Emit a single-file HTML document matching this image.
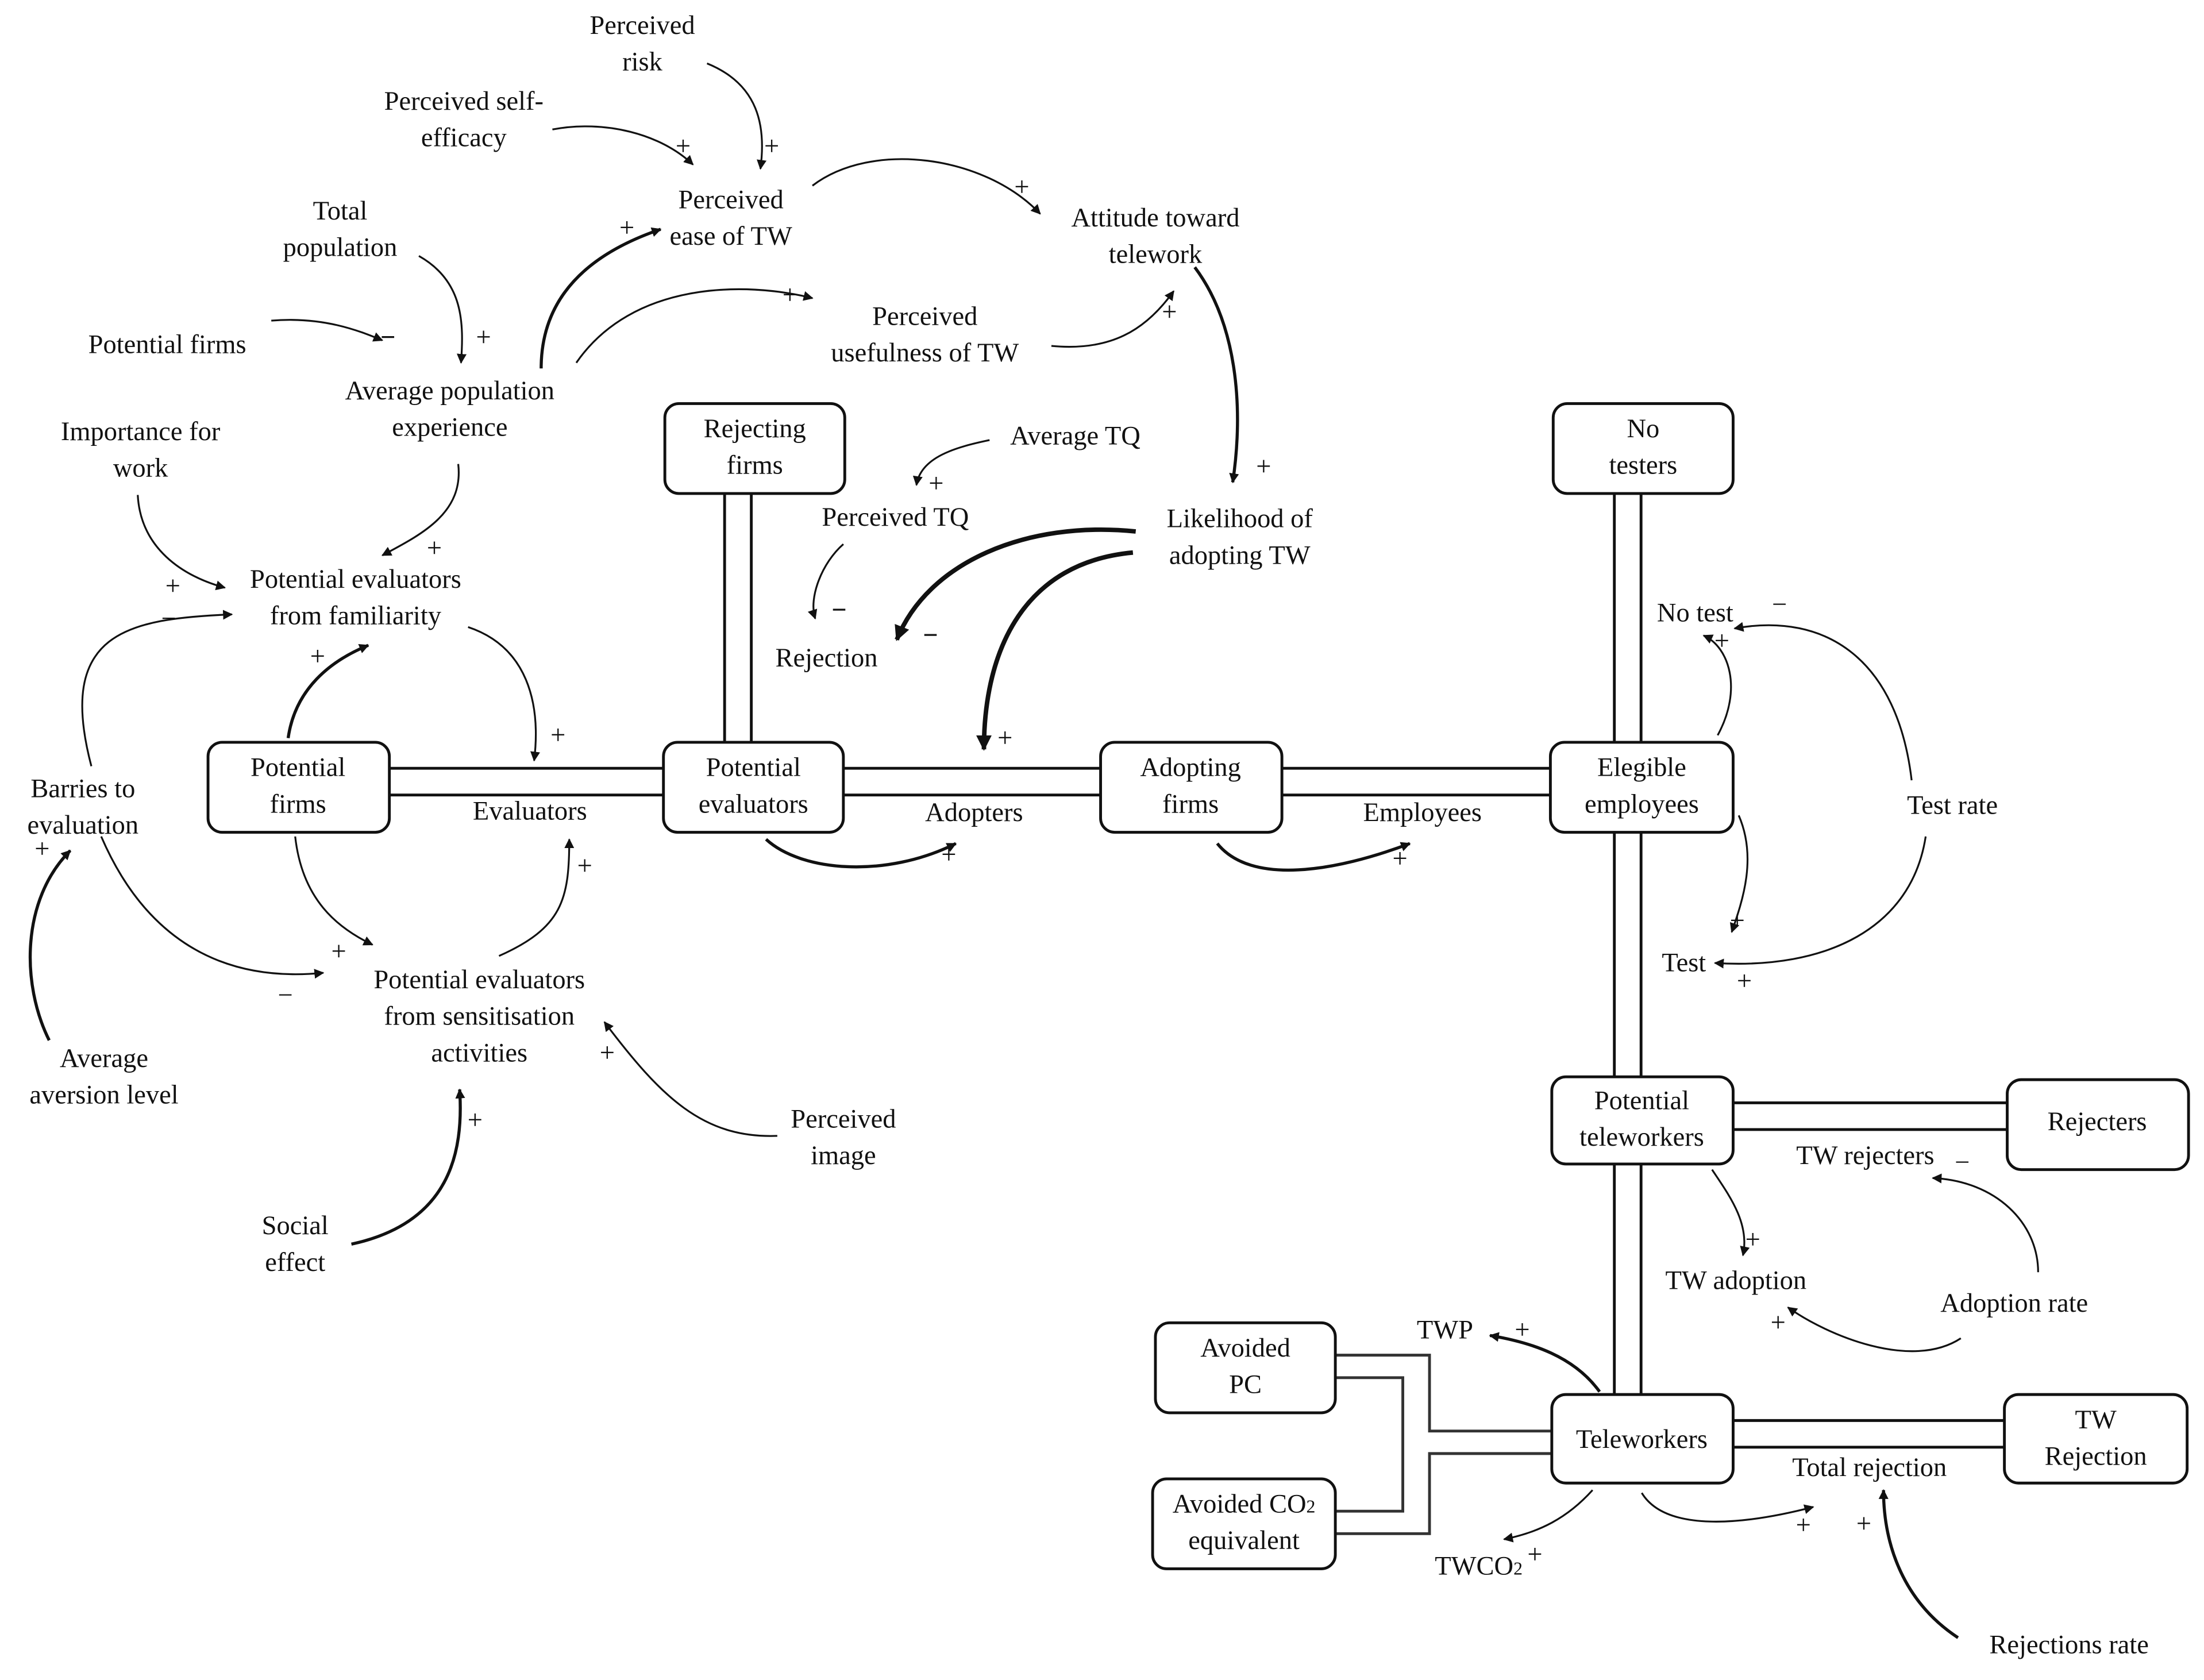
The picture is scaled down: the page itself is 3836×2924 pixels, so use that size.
<!DOCTYPE html>
<html><head><meta charset="utf-8"><style>
html,body{margin:0;padding:0;background:#fff;}
svg{display:block;}
text{font-family:"Liberation Serif",serif;font-size:19px;fill:#111;text-anchor:middle;}
.s{font-size:20px;}
</style></head><body>
<svg width="3836" height="2924" viewBox="0 0 1568 1195" xmlns="http://www.w3.org/2000/svg">
<defs>
<marker id="a" viewBox="0 0 10 10" refX="9" refY="5" markerWidth="7" markerHeight="7" markerUnits="userSpaceOnUse" orient="auto"><path d="M0,0 L10,5 L0,10 z" fill="#111"/></marker>
<marker id="b" viewBox="0 0 10 10" refX="9" refY="5" markerWidth="11" markerHeight="11" markerUnits="userSpaceOnUse" orient="auto"><path d="M0,0 L10,5 L0,10 z" fill="#111"/></marker>
</defs>
<rect width="1568" height="1195" fill="#fff"/>
<!-- pipes -->
<g fill="none" stroke-linejoin="miter">
<g stroke="#111" stroke-width="21">
<polyline points="277,556 1105,556"/>
<polyline points="525,351 525,530"/>
<polyline points="1158,351 1158,992"/>
<polyline points="1233,794 1430,794"/>
<polyline points="1233,1020 1428,1020"/>
</g>
<g stroke="#fff" stroke-width="17">
<polyline points="270,556 1110,556"/>
<polyline points="525,345 525,540"/>
<polyline points="1158,345 1158,1000"/>
<polyline points="1225,794 1435,794"/>
<polyline points="1225,1020 1435,1020"/>
</g>
<g stroke="#333" stroke-width="2">
<polyline points="950,964 1017,964 1017,1018 1105,1018"/>
<polyline points="950,980 998,980 998,1075 950,1075"/>
<polyline points="1105,1034 1017,1034 1017,1091 950,1091"/>
</g>
</g>
<!-- boxes -->
<g fill="#fff" stroke="#111" stroke-width="2">
<rect x="473" y="287" width="128" height="64" rx="10"/>
<rect x="1105" y="287" width="128" height="64" rx="10"/>
<rect x="148" y="528" width="129" height="64" rx="10"/>
<rect x="472" y="528" width="128" height="64" rx="10"/>
<rect x="783" y="528" width="129" height="64" rx="10"/>
<rect x="1103" y="528" width="130" height="64" rx="10"/>
<rect x="1104" y="766" width="129" height="62" rx="10"/>
<rect x="1428" y="768" width="129" height="64" rx="10"/>
<rect x="1104" y="992" width="129" height="63" rx="10"/>
<rect x="1426" y="992" width="130" height="63" rx="10"/>
<rect x="822" y="941" width="128" height="64" rx="10"/>
<rect x="820" y="1052" width="130" height="64" rx="10"/>
</g>
<!-- arrows -->
<g fill="none" stroke="#111" stroke-width="1.3" marker-end="url(#a)">
<path d="M503,45 C540,60 545,90 541,120"/>
<path d="M393,92 C430,85 470,95 493,117"/>
<path d="M578,132 C620,100 700,110 740,152"/>
<path d="M410,258 C450,200 530,200 578,212"/>
<path d="M748,246 C790,250 815,235 835,207"/>
<path d="M298,182 C330,200 330,230 328,258"/>
<path d="M193,228 C230,225 255,235 272,242"/>
<path d="M326,330 C330,365 300,380 272,395"/>
<path d="M98,352 C100,390 130,410 160,418"/>
<path d="M65,545 C40,450 90,440 165,437"/>
<path d="M704,313 C680,318 655,325 652,345"/>
<path d="M600,387 C585,400 575,425 580,440"/>
<path d="M333,446 C375,460 385,500 380,541"/>
<path d="M210,595 C215,640 240,660 265,672"/>
<path d="M72,595 C100,660 150,700 230,692"/>
<path d="M355,680 C400,660 405,640 405,597"/>
<path d="M553,808 C500,810 470,780 430,727"/>
<path d="M1222,523 C1240,490 1230,460 1212,452"/>
<path d="M1360,555 C1350,470 1300,435 1234,447"/>
<path d="M1237,580 C1250,610 1240,640 1232,663"/>
<path d="M1370,595 C1360,660 1300,690 1220,685"/>
<path d="M1218,832 C1230,850 1245,870 1240,893"/>
<path d="M1450,905 C1450,870 1420,840 1375,838"/>
<path d="M1395,952 C1360,975 1300,950 1272,930"/>
<path d="M1133,1060 C1115,1080 1095,1090 1070,1095"/>
<path d="M1168,1062 C1185,1090 1240,1085 1290,1072"/>
</g>
<g fill="none" stroke="#111" stroke-width="2.2" marker-end="url(#a)">
<path d="M385,262 C385,210 420,180 470,163"/>
<path d="M850,190 C880,230 885,290 877,343"/>
<path d="M205,525 C210,490 235,470 262,459"/>
<path d="M545,597 C570,620 630,625 680,600"/>
<path d="M866,600 C890,630 950,620 1003,600"/>
<path d="M35,740 C15,700 15,640 50,605"/>
<path d="M250,885 C320,870 330,820 327,775"/>
<path d="M1138,990 C1120,965 1090,955 1060,950"/>
<path d="M1393,1165 C1355,1140 1340,1100 1340,1060"/>
</g>
<g fill="none" stroke="#111" stroke-width="3.2" marker-end="url(#b)">
<path d="M808,378 C730,370 660,400 638,455"/>
<path d="M806,393 C730,400 700,460 700,533"/>
</g>
<!-- labels -->
<text x="457" y="24">Perceived</text><text x="457" y="50">risk</text>
<text x="330" y="78">Perceived self-</text><text x="330" y="104">efficacy</text>
<text x="520" y="148">Perceived</text><text x="520" y="174">ease of TW</text>
<text x="822" y="161">Attitude toward</text><text x="822" y="187">telework</text>
<text x="242" y="156">Total</text><text x="242" y="182">population</text>
<text x="119" y="251">Potential firms</text>
<text x="320" y="284">Average population</text><text x="320" y="310">experience</text>
<text x="658" y="231">Perceived</text><text x="658" y="257">usefulness of TW</text>
<text x="100" y="313">Importance for</text><text x="100" y="339">work</text>
<text x="765" y="316">Average TQ</text>
<text x="637" y="374">Perceived TQ</text>
<text x="882" y="375">Likelihood of</text><text x="882" y="401">adopting TW</text>
<text x="588" y="474">Rejection</text>
<text x="253" y="418">Potential evaluators</text><text x="253" y="444">from familiarity</text>
<text x="1206" y="442">No test</text>
<text x="59" y="567">Barries to</text><text x="59" y="593">evaluation</text>
<text x="377" y="583">Evaluators</text>
<text x="693" y="584">Adopters</text>
<text x="1012" y="584">Employees</text>
<text x="1389" y="579">Test rate</text>
<text x="1198" y="691">Test</text>
<text x="341" y="703">Potential evaluators</text><text x="341" y="729">from sensitisation</text><text x="341" y="755">activities</text>
<text x="74" y="759">Average</text><text x="74" y="785">aversion level</text>
<text x="600" y="802">Perceived</text><text x="600" y="828">image</text>
<text x="210" y="878">Social</text><text x="210" y="904">effect</text>
<text x="1327" y="828">TW rejecters</text>
<text x="1235" y="917">TW adoption</text>
<text x="1433" y="933">Adoption rate</text>
<text x="1028" y="952">TWP</text>
<text x="1330" y="1050">Total rejection</text>
<text x="1052" y="1120">TWCO<tspan font-size="13">2</tspan></text>
<text x="1472" y="1176">Rejections rate</text>
<!-- box labels -->
<text x="537" y="311">Rejecting</text><text x="537" y="337">firms</text>
<text x="1169" y="311">No</text><text x="1169" y="337">testers</text>
<text x="212" y="552">Potential</text><text x="212" y="578">firms</text>
<text x="536" y="552">Potential</text><text x="536" y="578">evaluators</text>
<text x="847" y="552">Adopting</text><text x="847" y="578">firms</text>
<text x="1168" y="552">Elegible</text><text x="1168" y="578">employees</text>
<text x="1168" y="789">Potential</text><text x="1168" y="815">teleworkers</text>
<text x="1492" y="804">Rejecters</text>
<text x="1168" y="1030">Teleworkers</text>
<text x="1491" y="1016">TW</text><text x="1491" y="1042">Rejection</text>
<text x="886" y="965">Avoided</text><text x="886" y="991">PC</text>
<text x="885" y="1076">Avoided CO<tspan font-size="13">2</tspan></text><text x="885" y="1102">equivalent</text>
<!-- signs -->
<g class="s">
<text x="486" y="110">+</text><text x="549" y="110">+</text><text x="727" y="139">+</text><text x="446" y="168">+</text>
<text x="562" y="216">+</text><text x="832" y="228">+</text><text x="899" y="338">+</text><text x="344" y="246">+</text>
<text x="276" y="246" font-weight="bold">−</text><text x="309" y="396">+</text><text x="123" y="423">+</text><text x="120" y="446">−</text>
<text x="666" y="350">+</text><text x="597" y="440" font-weight="bold">−</text><text x="662" y="458" font-weight="bold">−</text><text x="715" y="531">+</text>
<text x="397" y="529">+</text><text x="226" y="473">+</text><text x="241" y="683">+</text><text x="203" y="714">−</text>
<text x="416" y="622">+</text><text x="675" y="614">+</text><text x="996" y="617">+</text><text x="30" y="610">+</text>
<text x="432" y="755">+</text><text x="338" y="803">+</text><text x="1225" y="462">+</text><text x="1266" y="436">−</text>
<text x="1236" y="661">+</text><text x="1241" y="704">+</text><text x="1247" y="888">+</text><text x="1396" y="833">−</text>
<text x="1265" y="947">+</text><text x="1083" y="952">+</text><text x="1092" y="1112">+</text><text x="1283" y="1091">+</text>
<text x="1326" y="1090">+</text>
</g>
</svg>
</body></html>
